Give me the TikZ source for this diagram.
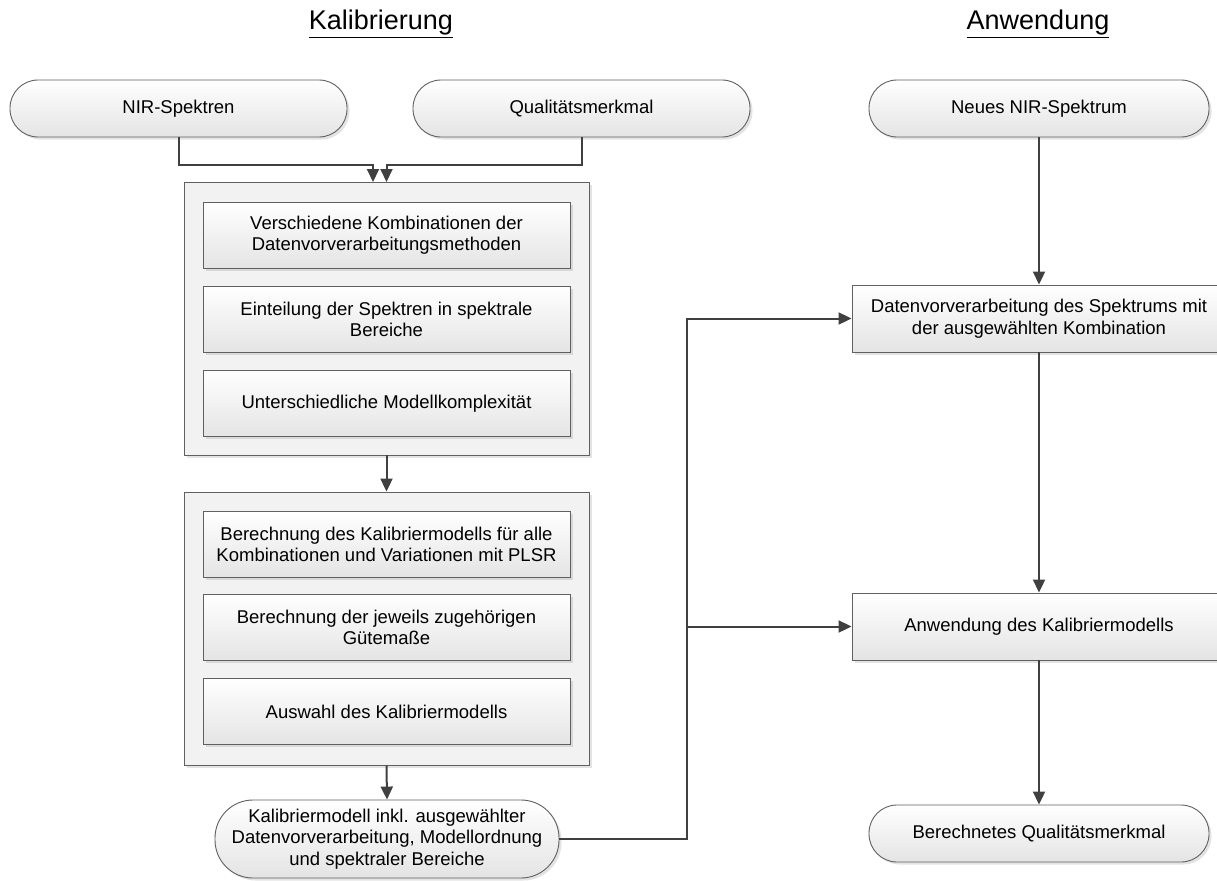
\documentclass[tikz,border=0pt]{standalone}
\usepackage{fontspec}
\setmainfont{Liberation Sans}
\usetikzlibrary{arrows.meta,shadows}

\definecolor{edge}{HTML}{606060}
\definecolor{wire}{HTML}{404040}
\definecolor{panel}{HTML}{F2F2F2}
\definecolor{shadeb}{HTML}{E4E4E4}

\tikzset{
  x=1pt, y=-1pt,
  txt/.style={font=\fontsize{18.5}{21.5}\selectfont, align=center, text=black},
  soft/.style={drop shadow={opacity=0.22, shadow xshift=2.5pt, shadow yshift=-2.5pt}},
  stepbox/.style={txt, draw=edge, line width=0.9pt, top color=white, bottom color=shadeb,
    minimum width=367pt, minimum height=66pt, inner sep=0pt, soft},
  procbox/.style={stepbox, minimum width=374pt, minimum height=67pt},
  groupbox/.style={draw=edge, line width=0.9pt, fill=panel, minimum width=405pt,
    minimum height=273pt, inner sep=0pt, soft},
  terminal/.style={txt, draw=edge, line width=0.9pt, top color=white, bottom color=shadeb,
    rounded corners=28pt, minimum width=337pt, minimum height=57pt, inner sep=0pt, soft},
  title/.style={font=\fontsize{27}{32}\selectfont, text=black},
  flow/.style={draw=wire, line width=2pt, -{Triangle[length=13pt,width=12pt]}},
  wireline/.style={draw=wire, line width=2pt},
}

\begin{document}
\begin{tikzpicture}
\useasboundingbox (0,0) rectangle (1217,880);
\clip (0,0) rectangle (1217,880);

% headings
\node[title] (hk) at (381,24) {\underline{Kalibrierung}};
\node[title] (ha) at (1038,24) {\underline{Anwendung}};

% calibration inputs
\node[terminal] (nir) at (178.5,108.5) {NIR-Spektren};
\node[terminal] (qual) at (581.5,108.5) {Qualitätsmerkmal};

% first group: variations
\node[groupbox] (g1) at (386.5,318.5) {};
\node[stepbox] (b1) at (386.5,235) {Verschiedene Kombinationen der\\Datenvorverarbeitungsmethoden};
\node[stepbox] (b2) at (386.5,319.5) {Einteilung der Spektren in spektrale\\Bereiche};
\node[stepbox] (b3) at (386.5,403.5) {Unterschiedliche Modellkomplexität};

% second group: model computation
\node[groupbox] (g2) at (386.5,628.5) {};
\node[stepbox] (b4) at (386.5,544.5) {Berechnung des Kalibriermodells für alle\\Kombinationen und Variationen mit PLSR};
\node[stepbox] (b5) at (386.5,627.5) {Berechnung der jeweils zugehörigen\\Gütemaße};
\node[stepbox] (b6) at (386.5,711.5) {Auswahl des Kalibriermodells};

% calibration result
\node[terminal, minimum width=344pt, minimum height=78pt, rounded corners=38pt] (kal) at (387,839)
  {Kalibriermodell inkl. ausgewählter\\Datenvorverarbeitung, Modellordnung\\und spektraler Bereiche};

% application column
\node[terminal, minimum width=340pt] (neu) at (1039,108.5) {Neues NIR-Spektrum};
\node[procbox] (dvv) at (1039,318.5) {Datenvorverarbeitung des Spektrums mit\\der ausgewählten Kombination};
\node[procbox] (anw) at (1039,626.5) {Anwendung des Kalibriermodells};
\node[terminal, minimum width=340pt] (ber) at (1039,833.5) {Berechnetes Qualitätsmerkmal};

% helper points for the merged inputs and the model branch
\coordinate (inL) at (373,182);
\coordinate (inR) at (386.5,182);
\coordinate (bus) at (687,0);

% connectors, calibration
\draw[flow] (nir.south) |- (373,165) -- (inL);
\draw[flow] (qual.south) |- (386.5,165) -- (inR);
\draw[flow] (g1.south) -- (g2.north);
\draw[flow] (g2.south) -- (kal.north);

% connectors, model to application
\draw[flow] (kal.east) -- (kal.east -| bus) |- (dvv.west);
\draw[flow] (bus |- anw.west) -- (anw.west);

% connectors, application
\draw[flow] (neu.south) -- (dvv.north);
\draw[flow] (dvv.south) -- (anw.north);
\draw[flow] (anw.south) -- (ber.north);
\end{tikzpicture}
\end{document}
